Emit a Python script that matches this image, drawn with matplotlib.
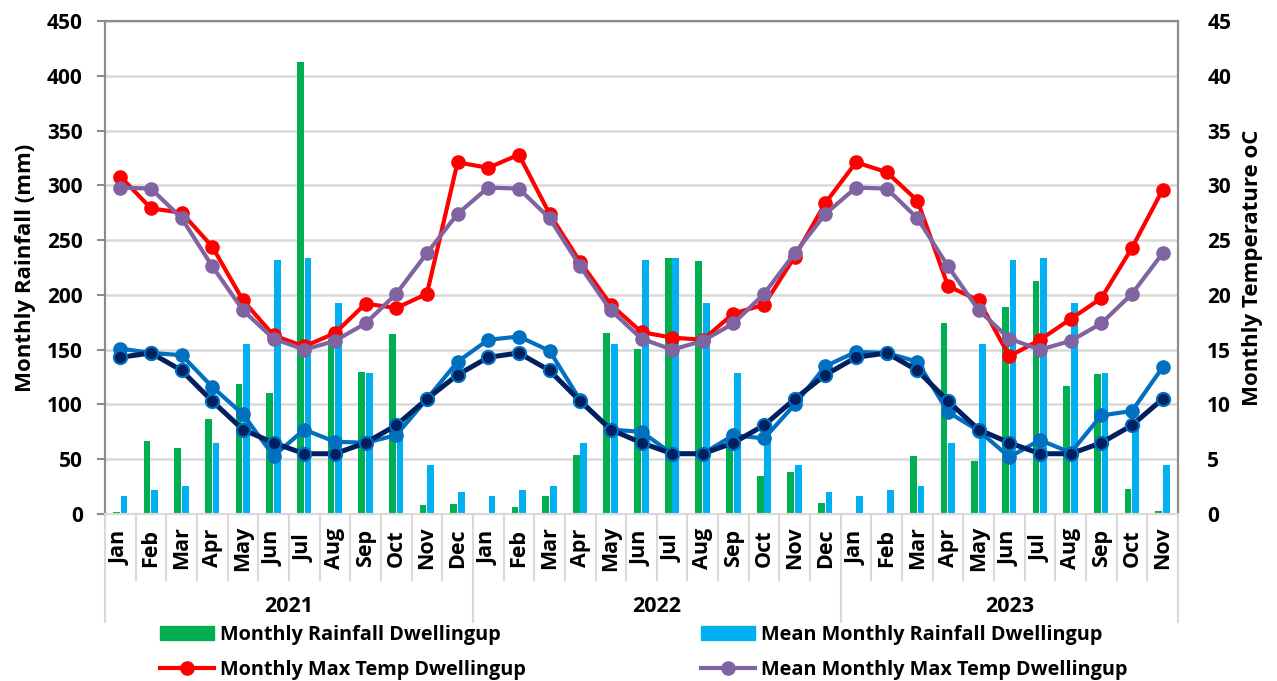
import numpy as np
import matplotlib
matplotlib.use("Agg")
import matplotlib.pyplot as plt
import matplotlib.transforms as mtransforms
from matplotlib.patches import Patch
from matplotlib.lines import Line2D

plt.rcParams['font.family'] = ['Open Sans', 'DejaVu Sans']
plt.rcParams['font.weight'] = 'bold'

# ---------------- data ----------------
month_names = ['Jan', 'Feb', 'Mar', 'Apr', 'May', 'Jun', 'Jul', 'Aug', 'Sep', 'Oct', 'Nov', 'Dec']
months = (month_names * 3)[:35]
years = ['2021', '2022', '2023']
year_counts = [12, 12, 11]

rain = [2, 67, 60, 87, 119, 110, 413, 160, 130, 164, 8, 9,
        0, 6, 16, 54, 165, 151, 234, 231, 65, 35, 38, 10,
        0, 0, 53, 174, 48, 189, 213, 117, 128, 23, 3]
mean_rain_year = [16, 22, 26, 65, 155, 232, 234, 193, 129, 82, 45, 20]
mean_rain = (mean_rain_year * 3)[:35]

max_temp = [30.8, 27.9, 27.5, 24.4, 19.5, 16.3, 15.3, 16.5, 19.2, 18.8, 20.1, 32.1,
            31.6, 32.8, 27.4, 23.0, 19.1, 16.6, 16.1, 15.9, 18.3, 19.1, 23.5, 28.4,
            32.1, 31.2, 28.6, 20.8, 19.5, 14.4, 15.9, 17.8, 19.7, 24.3, 29.6]
mean_max_year = [29.8, 29.7, 27.0, 22.6, 18.6, 16.0, 15.0, 15.8, 17.4, 20.1, 23.8, 27.4]
mean_max = (mean_max_year * 3)[:35]

min_temp = [15.1, 14.7, 14.5, 11.6, 9.1, 5.3, 7.7, 6.6, 6.5, 7.2, 10.5, 13.9,
            15.9, 16.2, 14.9, 10.4, 7.7, 7.5, 5.5, 5.5, 7.2, 6.9, 10.0, 13.5,
            14.8, 14.7, 13.9, 9.3, 7.6, 5.2, 6.75, 5.6, 9.0, 9.4, 13.4]
mean_min_year = [14.3, 14.7, 13.1, 10.3, 7.7, 6.5, 5.5, 5.5, 6.5, 8.1, 10.5, 12.7]
mean_min = (mean_min_year * 3)[:35]

# ---------------- colours ----------------
c_green = '#00B050'
c_blue = '#00B0F0'
c_red = '#FF0000'
c_purple = '#8064A2'
c_mblue = '#0070C0'
c_navy = '#002060'
c_grid = '#D9D9D9'
c_axis = '#8C8C8C'

FS_TICK = 15
FS_MON = 15.5
FS_LAB = 16
FS_LEG = 14.3

fig = plt.figure(figsize=(12.77, 6.81), dpi=100)
ax = fig.add_axes([105 / 1277, 1 - 514 / 681, 1073 / 1277, 493 / 681])
ax2 = ax.twinx()

x = np.arange(len(months))
bw = 0.22
ax.bar(x - 0.13, rain, bw, color=c_green, zorder=2)
ax.bar(x + 0.12, mean_rain, bw, color=c_blue, zorder=2)

ax.set_ylim(0, 450)
ax.set_yticks(np.arange(0, 451, 50))
ax.set_xlim(-0.5, len(months) - 0.5)
ax.yaxis.grid(True, color=c_grid, linewidth=1.8, zorder=0)
ax.set_axisbelow(True)

ax2.set_ylim(0, 45)
ax2.set_yticks(np.arange(0, 46, 5))

lw = 3.0
ms = 9.5
ax2.plot(x, max_temp, color=c_red, lw=lw, marker='o', ms=ms, zorder=3)
ax2.plot(x, mean_max, color=c_purple, lw=lw, marker='o', ms=ms, zorder=4)
ax2.plot(x, min_temp, color=c_mblue, lw=lw, marker='o', ms=ms, zorder=5)
ax2.plot(x, mean_min, color=c_navy, lw=3.6, marker='o', ms=ms,
         markeredgecolor=c_mblue, markeredgewidth=1.5, zorder=6)

# spines
for a in (ax, ax2):
    for s in a.spines.values():
        s.set_color(c_axis)
        s.set_linewidth(1.5)
    a.spines['bottom'].set_color(c_grid)

ax.tick_params(axis='y', length=6, width=1.5, color=c_axis, labelsize=FS_TICK, pad=10)
ax2.tick_params(axis='y', length=0, labelsize=FS_TICK, pad=21)
for lab in ax.get_yticklabels() + ax2.get_yticklabels():
    lab.set_fontweight('bold')

ax.set_ylabel('Monthly Rainfall (mm)', fontsize=FS_LAB, fontweight='bold', labelpad=8)
ax2.set_ylabel('Monthly Temperature oC', fontsize=FS_LAB, fontweight='bold', labelpad=8)

# x-axis month labels
ax.set_xticks(x)
ax.set_xticklabels(months, rotation=90, fontsize=FS_MON, fontweight='bold')
ax.tick_params(axis='x', length=0, pad=24.5)
for lab in ax.get_xticklabels():
    lab.set_verticalalignment('center')

trans = mtransforms.blended_transform_factory(ax.transData, ax.transAxes)
def ay(py):
    return -(py - 514) / 493.0

# month separators
for b in np.arange(-0.5, len(months) + 0.5, 1.0):
    ax.plot([b, b], [ay(514), ay(580)], transform=trans, color=c_grid,
            lw=1.5, clip_on=False, zorder=1)
# year separators and labels
start = 0
bounds = [-0.5]
for yr, n in zip(years, year_counts):
    ax.text(start + (n - 1) / 2.0, ay(607), yr, transform=trans, ha='center',
            va='center', fontsize=FS_MON, fontweight='bold')
    start += n
    bounds.append(start - 0.5)
for b in bounds:
    ax.plot([b, b], [ay(514), ay(622)], transform=trans, color=c_grid,
            lw=1.5, clip_on=False, zorder=1)

# legends
h1 = [Patch(color=c_green), Line2D([], [], color=c_red, lw=lw, marker='o', ms=ms)]
l1 = ['Monthly Rainfall Dwellingup', 'Monthly Max Temp Dwellingup']
h2 = [Patch(color=c_blue), Line2D([], [], color=c_purple, lw=lw, marker='o', ms=ms)]
l2 = ['Mean Monthly Rainfall Dwellingup', 'Mean Monthly Max Temp Dwellingup']
common = dict(frameon=False, handlelength=2.7, handleheight=0.75,
              labelspacing=0.75, handletextpad=0.3, borderaxespad=0, borderpad=0,
              prop={'weight': 'bold', 'size': FS_LEG})
leg1 = fig.legend(h1, l1, loc='upper left', bbox_to_anchor=(160 / 1277, 1 - 625 / 681), **common)
leg2 = fig.legend(h2, l2, loc='upper left', bbox_to_anchor=(701 / 1277, 1 - 625 / 681), **common)

fig.savefig('out.png', dpi=100)
